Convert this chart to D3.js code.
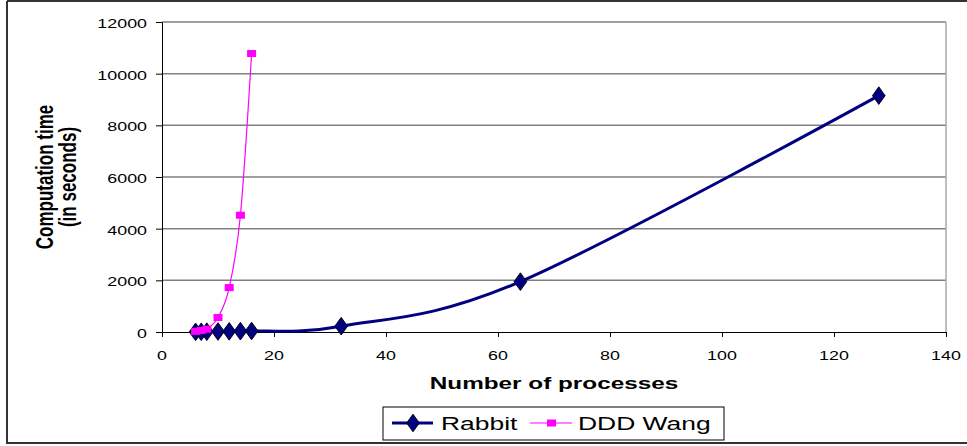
<!DOCTYPE html>
<html>
<head>
<meta charset="utf-8">
<script src="https://cdn.jsdelivr.net/npm/d3@7"></script>
<style>
  html, body { margin: 0; padding: 0; background: #fff; }
  svg { display: block; }
  text { font-family: "Liberation Sans", Arial, sans-serif; fill: #000; }
</style>
</head>
<body>
<svg id="chart" width="967" height="446"></svg>
<script>
// ---- data ----
const rabbitX = [6, 7, 8, 10, 12, 14, 16, 32, 64, 128];
const rabbitY = [5, 8, 12, 18, 25, 32, 40, 225, 1950, 9150];
const wangX = [6, 7, 8, 10, 12, 14, 16];
const wangY = [25, 60, 110, 560, 1720, 4520, 10780];
const xTicks = [0, 20, 40, 60, 80, 100, 120, 140];
const yTicks = [0, 2000, 4000, 6000, 8000, 10000, 12000];
const seriesNames = ["Rabbit", "DDD Wang"];

const SX = 1.43; // horizontal text stretch seen in the reference
const svg = d3.select("#chart");

const x = d3.scaleLinear().domain([0, 140]).range([162, 946]);
const y = d3.scaleLinear().domain([0, 12000]).range([332, 22]);

// outer frame (no right edge)
svg.append("path")
  .attr("d", "M7,1 L967,1 M7,1 L7,443 L967,443")
  .attr("fill", "none").attr("stroke", "#333").attr("stroke-width", 2);

// gridlines
svg.append("g").selectAll("line").data(yTicks.filter(d => d > 0)).join("line")
  .attr("x1", x(0)).attr("x2", x(140))
  .attr("y1", d => y(d)).attr("y2", d => y(d))
  .attr("stroke", "#808080").attr("stroke-width", 1.5);

// plot right border
svg.append("line")
  .attr("x1", x(140)).attr("x2", x(140)).attr("y1", y(12000)).attr("y2", y(0))
  .attr("stroke", "#aaa").attr("stroke-width", 1.5);

// y axis
const yAxis = svg.append("g").attr("transform", `translate(${x(0)},0)`)
  .call(d3.axisLeft(y).tickValues(yTicks).tickSize(6).tickFormat(d3.format("d")));
yAxis.select(".domain").attr("stroke", "#000");
yAxis.selectAll(".tick line").attr("stroke", "#000");
yAxis.selectAll(".tick text").remove();
svg.append("g").selectAll("text").data(yTicks).join("text")
  .attr("transform", d => `translate(147,${y(d) + 6}) scale(${SX},1)`)
  .attr("text-anchor", "end").attr("font-size", 12.5)
  .text(d => d);

// x axis
const xAxis = svg.append("g").attr("transform", `translate(0,${y(0)})`)
  .call(d3.axisBottom(x).tickValues(xTicks).tickSize(5).tickFormat(d3.format("d")));
xAxis.select(".domain").attr("stroke", "#000");
xAxis.selectAll(".tick line").attr("stroke", "#000");
xAxis.selectAll(".tick text").remove();
svg.append("g").selectAll("text").data(xTicks).join("text")
  .attr("transform", d => `translate(${x(d)},360) scale(${SX},1)`)
  .attr("text-anchor", "middle").attr("font-size", 12.5)
  .text(d => d);

// axis titles
svg.append("text")
  .attr("transform", `translate(554,389) scale(${SX},1)`)
  .attr("text-anchor", "middle").attr("font-size", 17).attr("font-weight", "bold")
  .text("Number of processes");

const yt = svg.append("text")
  .attr("transform", `translate(0,177) scale(${SX},1) rotate(-90)`)
  .attr("text-anchor", "middle").attr("font-size", 17).attr("font-weight", "bold");
yt.append("tspan").attr("x", 0).attr("y", 53 / SX).text("Computation time");
yt.append("tspan").attr("x", 0).attr("y", 76 / SX).text("(in seconds)");

// series
const line = d3.line().x(d => x(d[0])).y(d => y(d[1])).curve(d3.curveCardinal.tension(0));
const rabbit = rabbitX.map((v, i) => [v, rabbitY[i]]);
const wang = wangX.map((v, i) => [v, wangY[i]]);

svg.append("path").datum(rabbit).attr("d", line)
  .attr("fill", "none").attr("stroke", "#000080").attr("stroke-width", 3);

const diamond = d3.symbol().type(d3.symbolDiamond).size(90);
svg.append("g").selectAll("path").data(rabbit).join("path")
  .attr("d", diamond)
  .attr("transform", d => `translate(${x(d[0])},${y(d[1])}) scale(1.25,1)`)
  .attr("fill", "#000080").attr("stroke", "#000").attr("stroke-width", 0.8);

svg.append("path").datum(wang).attr("d", line)
  .attr("fill", "none").attr("stroke", "#ff00ff").attr("stroke-width", 1.2);

svg.append("g").selectAll("rect").data(wang).join("rect")
  .attr("x", d => x(d[0]) - 4.5).attr("y", d => y(d[1]) - 3.5)
  .attr("width", 9).attr("height", 7)
  .attr("fill", "#ff00ff");

// legend
const lg = svg.append("g");
lg.append("rect").attr("x", 383).attr("y", 407).attr("width", 341).attr("height", 33)
  .attr("fill", "#fff").attr("stroke", "#000").attr("stroke-width", 1);
lg.append("line").attr("x1", 392).attr("x2", 433).attr("y1", 423).attr("y2", 423)
  .attr("stroke", "#000080").attr("stroke-width", 3);
lg.append("path").attr("d", diamond)
  .attr("transform", "translate(413,423) scale(1.25,1)")
  .attr("fill", "#000080").attr("stroke", "#000").attr("stroke-width", 0.8);
lg.append("text").attr("transform", `translate(441,430) scale(${SX},1)`)
  .attr("font-size", 18.5).text(seriesNames[0]);
lg.append("line").attr("x1", 530).attr("x2", 572).attr("y1", 423).attr("y2", 423)
  .attr("stroke", "#ff00ff").attr("stroke-width", 1.2);
lg.append("rect").attr("x", 547).attr("y", 419.5).attr("width", 9).attr("height", 7)
  .attr("fill", "#ff00ff");
lg.append("text").attr("transform", `translate(578,430) scale(${SX},1)`)
  .attr("font-size", 18.5).text(seriesNames[1]);
</script>
</body>
</html>
